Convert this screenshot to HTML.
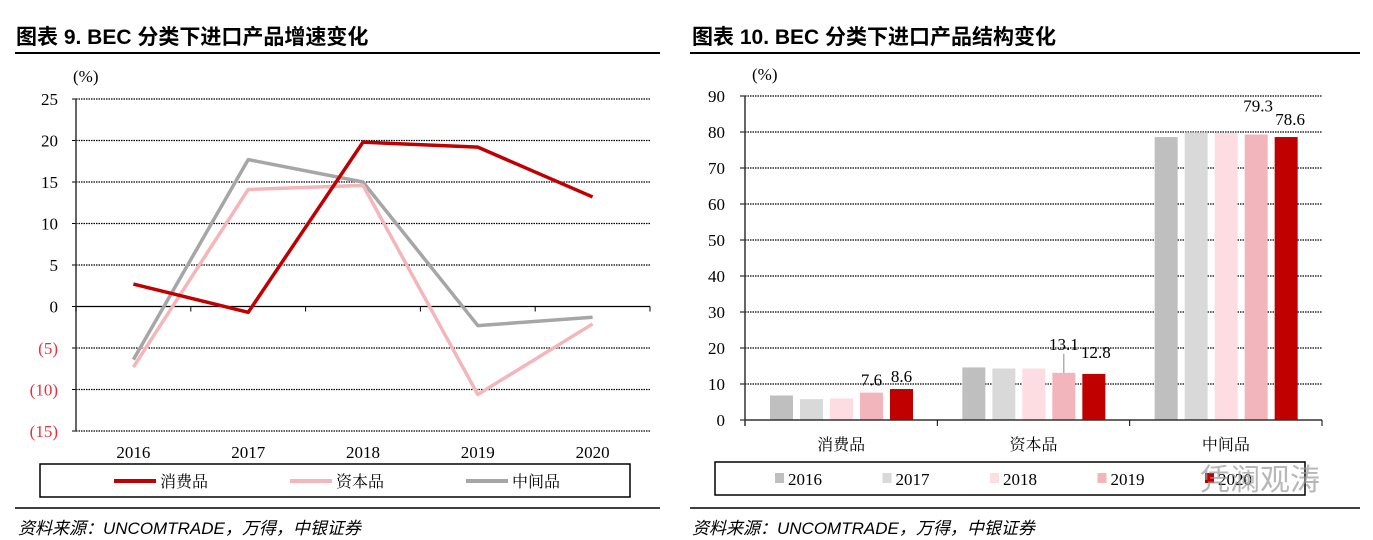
<!DOCTYPE html>
<html><head><meta charset="utf-8">
<style>
body{margin:0;width:1373px;height:540px;background:#fff;overflow:hidden;font-family:"Liberation Serif","Noto Serif CJK SC",serif;}
.t{position:absolute;font-family:"Liberation Sans","Noto Sans CJK SC",sans-serif;font-weight:bold;font-size:21px;color:#000;}
.src{position:absolute;font-family:"Liberation Sans","Noto Sans CJK SC",sans-serif;font-style:italic;font-size:17px;color:#000;}
</style></head><body>
<div class="t" style="left:16px;top:21px">图表 9. BEC 分类下进口产品增速变化</div>
<div class="t" style="left:692px;top:21px">图表 10. BEC 分类下进口产品结构变化</div>
<svg width="1373" height="540" style="position:absolute;left:0;top:0" id="svg">
<line x1="15" y1="53" x2="660" y2="53" stroke="#000" stroke-width="2"/>
<line x1="690" y1="53" x2="1360" y2="53" stroke="#000" stroke-width="2"/>
<line x1="15" y1="508" x2="660" y2="508" stroke="#000" stroke-width="1.5"/>
<line x1="690" y1="508" x2="1360" y2="508" stroke="#000" stroke-width="1.5"/>
</svg>
<div class="src" style="left:18px;top:514px">资料来源：UNCOMTRADE，万得，中银证券</div>
<div class="src" style="left:692px;top:514px">资料来源：UNCOMTRADE，万得，中银证券</div>
<script>
const lineYears=['2016','2017','2018','2019','2020'];
const consumerGrowth=[2.7,-0.7,19.8,19.2,13.2];
const capitalGrowth=[-7.3,14.1,14.6,-10.6,-2.1];
const intermediateGrowth=[-6.4,17.7,15.0,-2.3,-1.3];
const lineTicks=[25,20,15,10,5,0,-5,-10,-15];
const barCategories=['消费品','资本品','中间品'];
const bar2016=[6.8,14.6,78.6];
const bar2017=[5.8,14.3,79.9];
const bar2018=[6.0,14.3,79.7];
const bar2019=[7.6,13.1,79.3];
const bar2020=[8.6,12.8,78.6];
const barTicks=[0,10,20,30,40,50,60,70,80,90];

const svg=document.getElementById('svg');const NS='http://www.w3.org/2000/svg';
function mk(tag,a,parent){const e=document.createElementNS(NS,tag);for(const k in a)e.setAttribute(k,a[k]);(parent||svg).appendChild(e);return e;}
function txt(x,y,s,a){const e=mk('text',Object.assign({x:x,y:y,'font-family':'Liberation Serif, Noto Serif CJK SC, serif','font-size':17},a||{}));e.textContent=s;return e;}

// LEFT line chart
const L={x0:76,x1:650,yTop:99,yBot:431,vmax:25,vmin:-15};
const ly=v=>L.yTop+(L.vmax-v)/(L.vmax-L.vmin)*(L.yBot-L.yTop);
const cw=(L.x1-L.x0)/lineYears.length;
const lx=i=>L.x0+cw*(i+0.5);
lineTicks.forEach(t=>{
  const g=mk('line',{x1:L.x0,x2:L.x1,y1:ly(t),y2:ly(t),stroke:'#000','stroke-width':1.3,'stroke-dasharray':t===0?'none':'1.5 1'});
  
  mk('line',{x1:L.x0-4,x2:L.x0,y1:ly(t),y2:ly(t),stroke:'#000'});
  const s=t<0?'('+(-t)+')':String(t);
  const e=txt(L.x0-18,ly(t)+6,s,{'text-anchor':'end',fill:t<0?'#e8303a':'#000'});
  
});
txt(73,82,'(%)',{'text-anchor':'start'});
mk('line',{x1:L.x0,x2:L.x0,y1:L.yTop,y2:L.yBot,stroke:'#333','stroke-width':1.5});
for(let i=0;i<=lineYears.length;i++)mk('line',{x1:L.x0+cw*i,x2:L.x0+cw*i,y1:ly(0),y2:ly(0)+5,stroke:'#000'});
lineYears.forEach((y,i)=>{const e=txt(lx(i),458,y,{'text-anchor':'middle'});});
const series=[[intermediateGrowth,'#a6a6a6','intermediate-line'],[capitalGrowth,'#f4b6bb','capital-line'],[consumerGrowth,'#c00000','consumer-line']];
series.forEach(([d,c,n])=>{
  const p=mk('polyline',{points:d.map((v,i)=>lx(i)+','+ly(v)).join(' '),fill:'none',stroke:c,'stroke-width':3.5,'stroke-linejoin':'round'});
  
});
const lg=mk('rect',{x:40,y:464,width:590,height:33,fill:'none',stroke:'#000','stroke-width':1.5});

[['消费品','#c00000',114],['资本品','#f4b6bb',290],['中间品','#a6a6a6',466]].forEach(([s,c,x])=>{
  mk('line',{x1:x,x2:x+42,y1:481,y2:481,stroke:c,'stroke-width':4});
  const e=txt(x+46,487,s,{'font-size':16});
});

// RIGHT bar chart
const R={x0:745,x1:1322,yTop:96,yBot:420,vmax:90};
const ry=v=>R.yBot-v/R.vmax*(R.yBot-R.yTop);
barTicks.forEach(t=>{
  if(t>0){const g=mk('line',{x1:R.x0,x2:R.x1,y1:ry(t),y2:ry(t),stroke:'#000','stroke-width':1.3,'stroke-dasharray':'1.5 1'});
  }
  mk('line',{x1:R.x0-5,x2:R.x0,y1:ry(t),y2:ry(t),stroke:'#000'});
  const e=txt(R.x0-20,ry(t)+6,String(t),{'text-anchor':'end'});
});
txt(752,80,'(%)');
const gw=(R.x1-R.x0)/barCategories.length;
const yrs=[bar2016,bar2017,bar2018,bar2019,bar2020];
const cols=['#bfbfbf','#d9d9d9','#fddde2','#f2b5bb','#c00000'];
const yrNames=['2016','2017','2018','2019','2020'];
barCategories.forEach((c,gi)=>{
  const gx=R.x0+gw*gi;
  yrs.forEach((arr,si)=>{
    const x=gx+25+si*30;const v=arr[gi];
    const b=mk('rect',{x:x,y:ry(v),width:23,height:R.yBot-ry(v),fill:cols[si]});
    
    if(si>=3){
      let dx=0,dy=7;
      if(gi===1){dx=si===3?0:2;dy=si===3?23:16;}
      if(gi===2){dx=si===3?2:4;dy=si===3?23:12;}
      const l=txt(x+11.5+dx,ry(v)-dy,v.toFixed(1),{'text-anchor':'middle','font-size':17});
      
      if(gi===1&&si===3){const ld=mk('line',{x1:x+11.5,x2:x+11.5,y1:ry(v)-19,y2:ry(v),stroke:'#888'});}
    }
  });
  const e=txt(gx+gw/2,450,c,{'text-anchor':'middle','font-size':16});
});
mk('line',{x1:R.x0,x2:R.x1,y1:R.yBot,y2:R.yBot,stroke:'#333','stroke-width':1.5});
mk('line',{x1:R.x0,x2:R.x0,y1:R.yTop,y2:R.yBot+6,stroke:'#333','stroke-width':1.5});
for(let i=1;i<=3;i++)mk('line',{x1:R.x0+gw*i,x2:R.x0+gw*i,y1:R.yBot,y2:R.yBot+6,stroke:'#000'});
const rg=mk('rect',{x:715,y:462,width:590,height:33,fill:'none',stroke:'#000','stroke-width':1.5});

yrNames.forEach((s,i)=>{const x=775+i*107.5;mk('rect',{x:x,y:473,width:9,height:10,fill:cols[i]});
  const e=txt(x+13,485,s,{'font-size':17});});
const wm=txt(1200,490,'凭澜观涛',{'font-size':30,fill:'#999','opacity':0.7,'font-family':'Noto Sans CJK SC, sans-serif'});

</script>
</body></html>
